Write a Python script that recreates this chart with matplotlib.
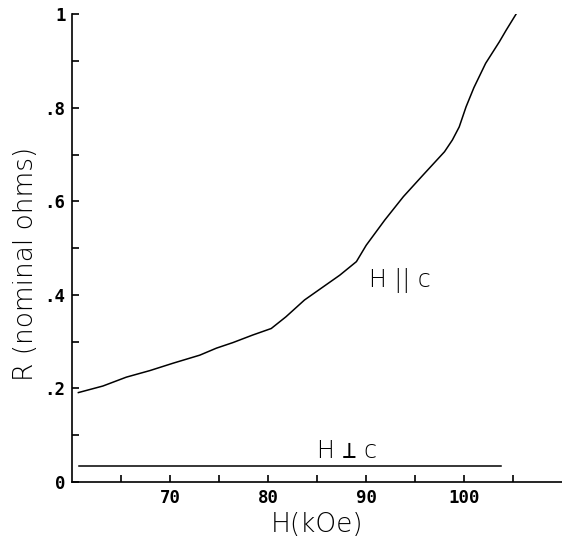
import matplotlib
matplotlib.use("Agg")
import matplotlib.pyplot as plt

# H || c curve
h_par = [60.6, 63.1, 65.5, 67.9, 70.3, 73.0, 74.7, 76.4, 78.4, 80.3, 81.8, 83.7,
         85.6, 87.3, 89.0, 90.0, 91.9, 93.8, 95.8, 98.0, 98.8, 99.5, 100.2, 101.0,
         102.2, 103.6, 104.3, 105.3]
r_par = [0.191, 0.205, 0.224, 0.238, 0.254, 0.271, 0.286, 0.298, 0.314, 0.328, 0.353, 0.389,
         0.417, 0.442, 0.471, 0.506, 0.560, 0.610, 0.656, 0.706, 0.731, 0.759, 0.802, 0.843,
         0.895, 0.941, 0.966, 1.0]
# H perp c line
h_perp = [60.7, 103.8]
r_perp = [0.033, 0.033]

x_major = [70, 80, 90, 100]
x_all_ticks = [65, 70, 75, 80, 85, 90, 95, 100, 105]
y_all_ticks = [0, 0.1, 0.2, 0.3, 0.4, 0.5, 0.6, 0.7, 0.8, 0.9, 1.0]
y_major = [0, 0.2, 0.4, 0.6, 0.8, 1.0]
y_major_labels = ["0", ".2", ".4", ".6", ".8", "1"]

fig = plt.figure(figsize=(5.62, 5.47), dpi=100)
ax = fig.add_axes([0.129, 0.119, 0.871, 0.855])
ax.plot(h_par, r_par, color="black", lw=1.1)
ax.plot(h_perp, r_perp, color="black", lw=1.1)

ax.set_xlim(60, 110)
ax.set_ylim(0, 1)
for s in ["top", "right"]:
    ax.spines[s].set_visible(False)
for s in ["left", "bottom"]:
    ax.spines[s].set_linewidth(1.2)

ax.set_xticks(x_all_ticks)
ax.set_xticklabels(["" if t not in x_major else str(t) for t in x_all_ticks])
ax.set_yticks(y_all_ticks)
ylabels = []
for t in y_all_ticks:
    lab = ""
    for m, l in zip(y_major, y_major_labels):
        if abs(t - m) < 1e-9:
            lab = l
    ylabels.append(lab)
ax.set_yticklabels(ylabels)

ax.tick_params(direction="in", length=5, width=1.2, labelsize=12.5, pad=5)
for lab in ax.get_xticklabels() + ax.get_yticklabels():
    lab.set_family("DejaVu Sans Mono")
    lab.set_fontweight("bold")

ax.set_xlabel("H(kOe)", fontsize=19, fontweight="light", labelpad=4)
ax.set_ylabel("R (nominal ohms)", fontsize=19, fontweight="light")
ax.yaxis.set_label_coords(-0.097, 0.466)
ax.yaxis.label.set_va("center")

ax.text(90.3, 0.43, "H || c", fontsize=17, fontweight="light", va="center", ha="left")
ax.text(85.0, 0.066, "H ⊥ c", fontsize=17, fontweight="light",
        family=["DejaVu Sans", "DejaVu Sans Mono", "Noto Sans"], va="center", ha="left")

fig.savefig("out.png", dpi=100)
